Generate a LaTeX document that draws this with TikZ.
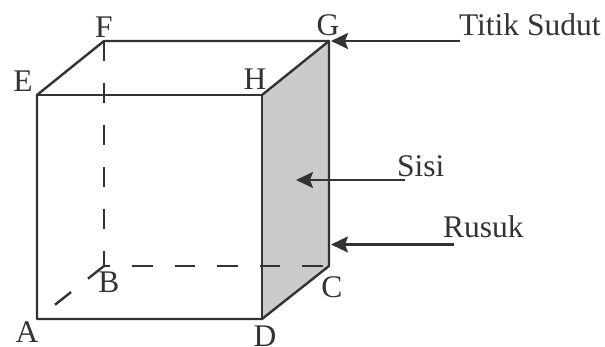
\documentclass[tikz,border=0pt]{standalone}
\usepackage{fontspec}
\setmainfont{Liberation Serif}
\usetikzlibrary{arrows.meta}
\definecolor{ink}{HTML}{333333}
\definecolor{face}{HTML}{CBCBCE}
\tikzset{
  edge/.style={draw=ink,line width=2.4pt,line cap=round,line join=round},
  hidden/.style={draw=ink,line width=2.4pt,dash pattern=on 20pt off 22pt},
  pointer/.style={draw=ink,line width=2.4pt,-{Stealth[length=17pt,width=16pt,inset=3pt,color=ink]}},
  lbl/.style={anchor=base,inner sep=0pt,outer sep=0pt,text=ink,font=\fontsize{31.5}{33}\selectfont},
  lblw/.style={lbl,anchor=base west}
}
\begin{document}
\begin{tikzpicture}[x=1pt,y=-1pt]
\clip (0,0) rectangle (605,347);
\fill[white] (0,0) rectangle (605,347);
\coordinate (a) at (37,319);
\coordinate (b) at (104,266);
\coordinate (c) at (329,266);
\coordinate (d) at (262,319);
\coordinate (e) at (37,95);
\coordinate (f) at (104,41);
\coordinate (g) at (329,41);
\coordinate (h) at (262,95);
\fill[face] (h) -- (g) -- (c) -- (d) -- cycle;
\draw[hidden] (f) -- (b);
\draw[hidden,dash pattern=on 20.5pt off 22pt,dash phase=14.5pt] (b) -- (c);
\draw[hidden,dash pattern=on 20.5pt off 21.5pt] (b) -- (a);
\draw[edge] (a) -- (d) -- (c) -- (g) -- (f) -- (e) -- (a);
\draw[edge] (e) -- (h) -- (d);
\draw[edge] (h) -- (g);
\node[lbl] (la) at (27,342) {A};
\node[lbl] (lb) at (109,293) {B};
\node[lbl] (lc) at (332,298) {C};
\node[lbl] (ld) at (265,346) {D};
\node[lbl] (le) at (23,92) {E};
\node[lbl] (lf) at (104,38) {F};
\node[lbl] (lg) at (328,36) {G};
\node[lbl] (lh) at (255,90) {H};
\node[lblw] (titik) at (459,36) {Titik Sudut};
\node[lblw] (sisi) at (397,177) {Sisi};
\node[lblw] (rusuk) at (443,238) {Rusuk};
\coordinate (ts) at (460,41);
\coordinate (ss) at (405,180);
\coordinate (st) at (296,180);
\coordinate (rs) at (454,244.5);
\coordinate (rt) at (331,244.5);
\coordinate (gt) at (331,41);
\draw[pointer] (ts) -- (gt);
\draw[pointer] (ss) -- (st);
\draw[pointer] (rs) -- (rt);
\end{tikzpicture}
\end{document}
